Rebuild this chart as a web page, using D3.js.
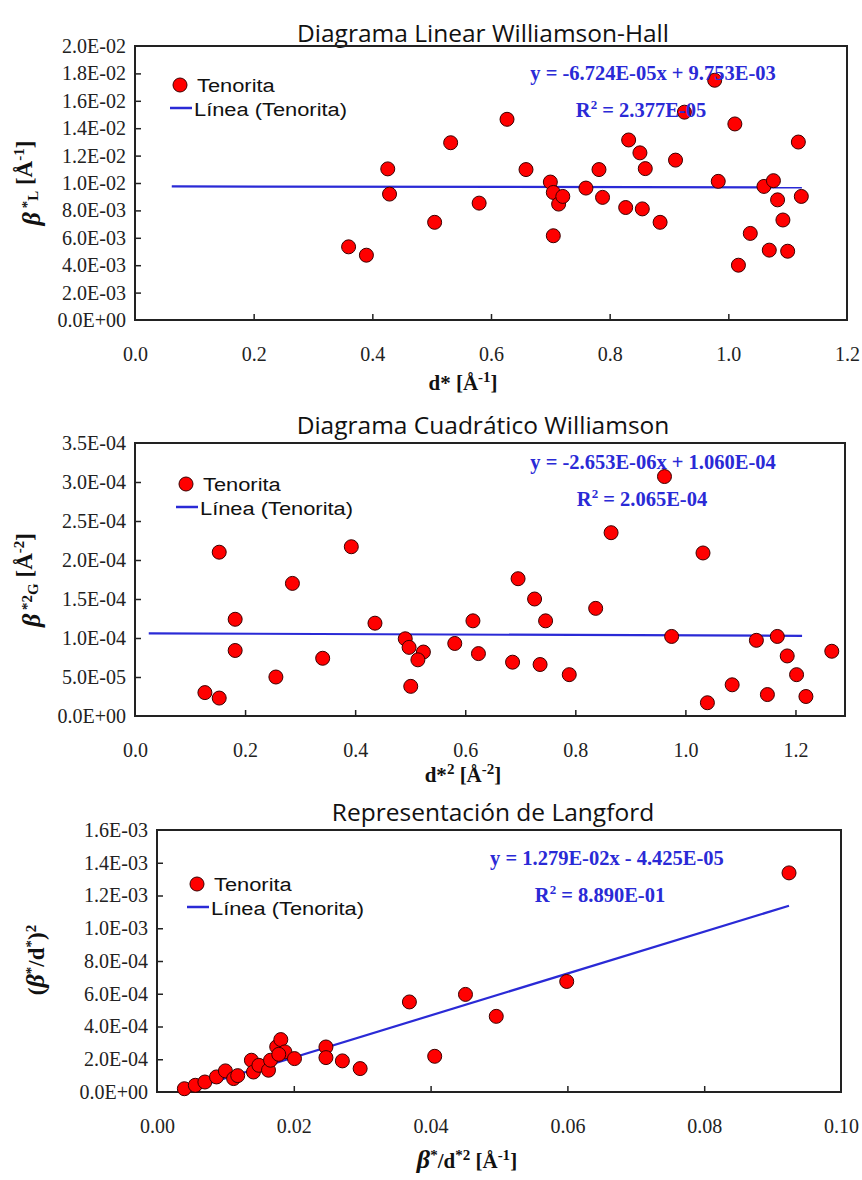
<!DOCTYPE html>
<html><head><meta charset="utf-8">
<script src="https://cdn.jsdelivr.net/npm/d3@7"></script>
<style>body{margin:0;background:#fff}</style>
</head><body><svg id="c" width="862" height="1180" xmlns="http://www.w3.org/2000/svg"></svg>
<script>
// ---------- DATA ----------
// Panel 1: Williamson-Hall linear
const whX = [0.36,0.39,0.426,0.429,0.505,0.532,0.58,0.627,0.659,0.700,0.705,0.714,0.721,0.705,0.760,0.782,0.788,0.827,0.832,0.851,0.855,0.860,0.885,0.911,0.926,0.977,0.983,1.011,1.017,1.037,1.060,1.069,1.076,1.083,1.092,1.100,1.118,1.123];
const whY = [5.34e-3,4.73e-3,1.103e-2,9.19e-3,7.13e-3,1.294e-2,8.53e-3,1.465e-2,1.098e-2,1.007e-2,9.31e-3,8.46e-3,9.02e-3,6.15e-3,9.63e-3,1.098e-2,8.95e-3,8.21e-3,1.314e-2,1.22e-2,8.11e-3,1.105e-2,7.13e-3,1.167e-2,1.517e-2,1.75e-2,1.012e-2,1.431e-2,4.0e-3,6.32e-3,9.75e-3,5.1e-3,1.017e-2,8.77e-3,7.3e-3,5.02e-3,1.299e-2,9.02e-3];
const whFitCoef = [-6.724e-5, 9.753e-3];
const whFitRange = [0.062, 1.124];
const whYTicks = [0,0.002,0.004,0.006,0.008,0.010,0.012,0.014,0.016,0.018,0.020];
const whXTicks = [0,0.2,0.4,0.6,0.8,1.0,1.2];

// Panel 2: Williamson quadratic
const wqX = [0.153,0.182,0.182,0.286,0.393,0.436,0.491,0.498,0.524,0.581,0.614,0.624,0.696,0.726,0.746,0.837,0.865,0.975,1.032,1.129,1.167,1.185,1.266,0.962,0.127,0.153,0.256,0.341,0.514,0.501,0.686,0.736,0.789,1.040,1.085,1.149,1.202,1.219];
const wqY = [2.10e-4,1.24e-4,8.4e-5,1.70e-4,2.17e-4,1.19e-4,9.9e-5,8.8e-5,8.2e-5,9.3e-5,1.22e-4,8.0e-5,1.76e-4,1.50e-4,1.22e-4,1.38e-4,2.35e-4,1.02e-4,2.09e-4,9.7e-5,1.02e-4,7.7e-5,8.3e-5,3.07e-4,3.0e-5,2.3e-5,5.0e-5,7.4e-5,7.2e-5,3.8e-5,6.9e-5,6.6e-5,5.3e-5,1.7e-5,4.0e-5,2.75e-5,5.3e-5,2.5e-5];
const wqFitCoef = [-2.653e-6, 1.060e-4];
const wqFitRange = [0.025, 1.212];
const wqYTicks = [0,5e-5,1e-4,1.5e-4,2e-4,2.5e-4,3e-4,3.5e-4];
const wqXTicks = [0,0.2,0.4,0.6,0.8,1.0,1.2];

// Panel 3: Langford
const lgX = [0.0040,0.0056,0.0070,0.0087,0.0100,0.0112,0.0138,0.0141,0.0149,0.0163,0.0166,0.0175,0.0181,0.0187,0.0201,0.0247,0.0247,0.0271,0.0297,0.0406,0.0369,0.0451,0.0496,0.0599,0.0924,0.0118,0.0178];
const lgY = [2.0e-5,4.1e-5,6.1e-5,9.2e-5,1.29e-4,8.2e-5,1.94e-4,1.22e-4,1.63e-4,1.33e-4,1.94e-4,2.76e-4,3.2e-4,2.45e-4,2.04e-4,2.75e-4,2.1e-4,1.9e-4,1.43e-4,2.18e-4,5.5e-4,5.96e-4,4.62e-4,6.75e-4,1.338e-3,1.0e-4,2.3e-4];
const lgFitCoef = [1.279e-2, -4.425e-5];
const lgFitRange = [0.0036, 0.0924];
const lgYTicks = [0,2e-4,4e-4,6e-4,8e-4,1e-3,1.2e-3,1.4e-3,1.6e-3];
const lgXTicks = [0,0.02,0.04,0.06,0.08,0.10];

// ---------- DRAW ----------
const svg = d3.select("#c");
function fmtE(v){
  if (v===0) return "0.0E+00";
  const s = v.toExponential(1);
  const [m,e] = s.split("e");
  const n = parseInt(e,10);
  return m + "E" + (n<0?"-":"+") + String(Math.abs(n)).padStart(2,"0");
}
const BLUE = "#2a2ad6";
const SERIF = "'Liberation Serif','Times New Roman',serif";
const SANS = "'Open Sans','Noto Sans',sans-serif";
const LSANS = "'Liberation Sans',Arial,sans-serif";

function panel(o){
  const x = d3.scaleLinear().domain(o.xDom).range([o.L, o.R]);
  const y = d3.scaleLinear().domain(o.yDom).range([o.B, o.T]);
  const g = svg.append("g");
  g.append("text").attr("x", o.titleX).attr("y", o.titleY).attr("text-anchor","middle")
    .attr("font-family", SANS).attr("font-size", 24.5).attr("fill","#111").text(o.title);
  const ax = d3.axisBottom(x).tickValues(o.xTicks).tickSize(-6).tickPadding(27).tickFormat(d3.format(o.xFmt));
  const ay = d3.axisLeft(y).tickValues(o.yTicks).tickSize(-6).tickPadding(9).tickFormat(fmtE);
  const gx = g.append("g").attr("transform",`translate(0,${o.B})`).call(ax);
  const gy = g.append("g").attr("transform",`translate(${o.L},0)`).call(ay);
  [gx,gy].forEach(a=>{
    a.select(".domain").remove();
    a.selectAll(".tick line").attr("stroke","#222").attr("stroke-width",1.5);
    a.selectAll(".tick text").attr("font-family",SERIF).attr("font-size",20).attr("fill","#222");
  });
  gx.selectAll(".tick").filter(d=>d===o.xTicks[0]||d===o.xDom[1]).select("line").remove();
  gy.selectAll(".tick").filter(d=>d===o.yTicks[0]||d===o.yDom[1]).select("line").remove();
  g.append("rect").attr("x",o.L).attr("y",o.T).attr("width",o.R-o.L).attr("height",o.B-o.T)
    .attr("fill","none").attr("stroke","#222").attr("stroke-width",2);
  const fx = o.fitRange;
  g.append("line").attr("x1",x(fx[0])).attr("y1",y(o.fit[0]*fx[0]+o.fit[1]))
    .attr("x2",x(fx[1])).attr("y2",y(o.fit[0]*fx[1]+o.fit[1]))
    .attr("stroke",BLUE).attr("stroke-width",2.2);
  g.append("g").selectAll("circle").data(o.xs.map((v,i)=>[v,o.ys[i]])).join("circle")
    .attr("cx",d=>x(d[0])).attr("cy",d=>y(d[1])).attr("r",7)
    .attr("fill","#ff0000").attr("stroke","#3a0000").attr("stroke-width",1);
  const lg = g.append("g").attr("transform",`translate(${o.legX},${o.legY})`);
  lg.append("circle").attr("cx",10).attr("cy",0).attr("r",7).attr("fill","#ff0000").attr("stroke","#3a0000");
  lg.append("text").attr("transform","translate(27,7) scale(1.15,1)").attr("font-family",LSANS).attr("font-size",19).attr("fill","#111").text("Tenorita");
  lg.append("line").attr("x1",0).attr("x2",22).attr("y1",23).attr("y2",23).attr("stroke",BLUE).attr("stroke-width",2.5);
  lg.append("text").attr("transform","translate(24,31) scale(1.15,1)").attr("font-family",LSANS).attr("font-size",19).attr("fill","#111").text("Línea (Tenorita)");
  const eq = g.append("g").attr("font-family",SERIF).attr("font-weight","bold").attr("font-size",20.5).attr("fill",BLUE).attr("text-anchor","middle");
  eq.append("text").attr("x",o.eqX).attr("y",o.eqY).text(o.eq);
  const r2 = eq.append("text").attr("x",o.r2X).attr("y",o.eqY+37);
  r2.append("tspan").text("R");
  r2.append("tspan").attr("dy",-8).attr("font-size",13).text("2");
  r2.append("tspan").attr("dy",8).text(" = " + o.r2);
  o.yTitle(g.append("text").attr("transform",`translate(${o.yTitleX},${o.yTitleY}) rotate(-90)`)
    .attr("text-anchor","middle").attr("font-family",SERIF).attr("font-weight","bold").attr("font-size",23).attr("fill","#111"));
  o.xTitle(g.append("text").attr("x",o.xTitleX).attr("y",o.xTitleY)
    .attr("text-anchor","middle").attr("font-family",SERIF).attr("font-weight","bold").attr("font-size",21).attr("fill","#111"));
}
function sup(t,s){t.append("tspan").attr("dy",-8).attr("font-size",15).text(s);}
function sub(t,s){t.append("tspan").attr("dy",6).attr("font-size",15).text(s);}
function base(t,s,dy){t.append("tspan").attr("dy",dy||0).text(s);}
function greek(t,s){t.append("tspan").attr("font-style","italic").attr("font-size",26).text(s);}

panel({title:"Diagrama Linear Williamson-Hall", titleX:483, titleY:42,
  L:135, R:847, T:46, B:320, xDom:[0,1.2], yDom:[0,0.02], xTicks:whXTicks, yTicks:whYTicks, xFmt:".1f",
  xs:whX, ys:whY, fit:whFitCoef, fitRange:whFitRange,
  legX:170, legY:85, eq:"y = -6.724E-05x + 9.753E-03", r2:"2.377E-05", eqX:653, r2X:641, eqY:80,
  yTitleX:40, yTitleY:183, xTitleX:463, xTitleY:390,
  yTitle:t=>{greek(t,"β");sup(t," *");sub(t,"L",14);base(t," [Å",-6);sup(t,"-1");base(t,"]",8);},
  xTitle:t=>{base(t,"d* [Å");sup(t,"-1");base(t,"]",8);}
});
panel({title:"Diagrama Cuadrático Williamson", titleX:483, titleY:434,
  L:135, R:845, T:443, B:716, xDom:[0,1.29], yDom:[0,3.5e-4], xTicks:wqXTicks, yTicks:wqYTicks, xFmt:".1f",
  xs:wqX, ys:wqY, fit:wqFitCoef, fitRange:wqFitRange,
  legX:176, legY:484, eq:"y = -2.653E-06x + 1.060E-04", r2:"2.065E-04", eqX:653, r2X:642, eqY:469,
  yTitleX:40, yTitleY:580, xTitleX:463, xTitleY:782,
  yTitle:t=>{greek(t,"β");sup(t," *2");sub(t,"G",14);base(t," [Å",-6);sup(t,"-2");base(t,"]",8);},
  xTitle:t=>{base(t,"d*");sup(t,"2");base(t," [Å",8);sup(t,"-2");base(t,"]",8);}
});
panel({title:"Representación de Langford", titleX:493, titleY:821,
  L:157, R:841, T:830, B:1092, xDom:[0,0.1], yDom:[0,1.6e-3], xTicks:lgXTicks, yTicks:lgYTicks, xFmt:".2f",
  xs:lgX, ys:lgY, fit:lgFitCoef, fitRange:lgFitRange,
  legX:187, legY:884, eq:"y = 1.279E-02x - 4.425E-05", r2:"8.890E-01", eqX:607, r2X:600, eqY:865,
  yTitleX:44, yTitleY:960, xTitleX:467, xTitleY:1168,
  yTitle:t=>{base(t,"(");greek(t,"β");sup(t,"*");base(t,"/d",8);sup(t,"*");base(t,")",8);sup(t,"2");},
  xTitle:t=>{greek(t,"β");sup(t,"*");base(t,"/d",8);sup(t,"*2");base(t," [Å",8);sup(t,"-1");base(t,"]",8);}
});
</script></body></html>
